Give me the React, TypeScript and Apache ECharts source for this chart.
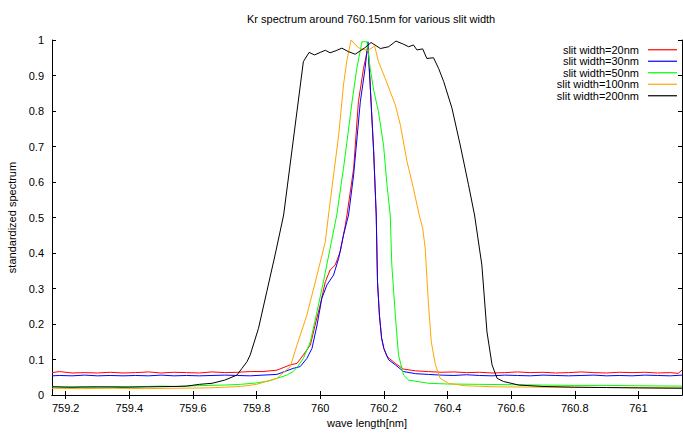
import React, { useEffect, useRef } from "react";
import * as echarts from "echarts";

const TITLE = "Kr spectrum around 760.15nm for various slit width";
const X_NAME = "wave length[nm]";
const Y_NAME = "standardized spectrum";
const X_TICKS = [759.2, 759.4, 759.6, 759.8, 760, 760.2, 760.4, 760.6, 760.8, 761];
const X_MIN = 759.157;
const X_MAX = 761.137;

const SERIES_NAMES = ["slit width=20nm", "slit width=30nm", "slit width=50nm", "slit width=100nm", "slit width=200nm"];
const COLORS = ["#ff0000", "#0000ff", "#00ff00", "#ffa500", "#000000"];

const wl20 = [759.157, 759.18, 759.22, 759.26, 759.3, 759.34, 759.38, 759.42, 759.46, 759.5, 759.54, 759.58, 759.62, 759.66, 759.7, 759.74, 759.78, 759.82, 759.864, 759.906, 759.927, 759.947, 759.969, 759.984, 760.0, 760.016, 760.031, 760.047, 760.063, 760.079, 760.084, 760.105, 760.12, 760.136, 760.15, 760.157, 760.168, 760.176, 760.18, 760.186, 760.193, 760.2, 760.21, 760.236, 760.262, 760.3, 760.34, 760.38, 760.42, 760.46, 760.5, 760.54, 760.58, 760.62, 760.66, 760.7, 760.74, 760.78, 760.82, 760.86, 760.9, 760.94, 760.98, 761.02, 761.06, 761.1, 761.125, 761.137];
const val20 = [0.063, 0.066, 0.062, 0.063, 0.062, 0.064, 0.062, 0.063, 0.065, 0.062, 0.064, 0.063, 0.062, 0.065, 0.063, 0.064, 0.066, 0.066, 0.07, 0.085, 0.089, 0.113, 0.141, 0.197, 0.254, 0.319, 0.352, 0.366, 0.404, 0.479, 0.507, 0.638, 0.826, 0.92, 0.978, 0.873, 0.685, 0.507, 0.319, 0.225, 0.16, 0.131, 0.108, 0.089, 0.073, 0.068, 0.066, 0.064, 0.065, 0.063, 0.064, 0.062, 0.063, 0.065, 0.063, 0.064, 0.062, 0.063, 0.065, 0.063, 0.062, 0.064, 0.063, 0.064, 0.062, 0.063, 0.061, 0.07];

const wl30 = [759.157, 759.18, 759.22, 759.26, 759.3, 759.34, 759.38, 759.42, 759.46, 759.5, 759.54, 759.58, 759.62, 759.66, 759.7, 759.74, 759.78, 759.82, 759.864, 759.915, 759.937, 759.958, 759.974, 759.99, 760.005, 760.021, 760.042, 760.058, 760.073, 760.089, 760.105, 760.126, 760.141, 760.15, 760.157, 760.168, 760.176, 760.18, 760.186, 760.193, 760.2, 760.215, 760.236, 760.262, 760.3, 760.34, 760.38, 760.42, 760.46, 760.5, 760.54, 760.58, 760.62, 760.66, 760.7, 760.74, 760.78, 760.82, 760.86, 760.9, 760.94, 760.98, 761.02, 761.06, 761.1, 761.137];
const val30 = [0.054, 0.055, 0.054, 0.056, 0.054, 0.055, 0.054, 0.055, 0.054, 0.056, 0.054, 0.055, 0.054, 0.055, 0.056, 0.055, 0.054, 0.056, 0.058, 0.075, 0.08, 0.103, 0.131, 0.197, 0.272, 0.31, 0.338, 0.385, 0.45, 0.507, 0.62, 0.826, 0.92, 0.995, 0.873, 0.685, 0.507, 0.319, 0.225, 0.16, 0.131, 0.099, 0.085, 0.066, 0.06, 0.058, 0.056, 0.055, 0.057, 0.055, 0.054, 0.056, 0.055, 0.054, 0.056, 0.055, 0.054, 0.055, 0.056, 0.054, 0.055, 0.054, 0.056, 0.055, 0.054, 0.056];

const wl50 = [759.157, 759.2, 759.25, 759.3, 759.35, 759.4, 759.45, 759.5, 759.55, 759.6, 759.65, 759.7, 759.75, 759.8, 759.84, 759.864, 759.895, 759.915, 759.927, 759.947, 759.969, 759.99, 760.01, 760.031, 760.052, 760.073, 760.085, 760.1, 760.115, 760.131, 760.147, 760.157, 760.168, 760.183, 760.199, 760.21, 760.22, 760.225, 760.236, 760.246, 760.262, 760.278, 760.34, 760.4, 760.5, 760.6, 760.7, 760.8, 760.9, 761.0, 761.137];
const val50 = [0.024, 0.022, 0.023, 0.022, 0.024, 0.023, 0.024, 0.025, 0.024, 0.026, 0.027, 0.028, 0.03, 0.034, 0.04, 0.047, 0.056, 0.066, 0.078, 0.103, 0.15, 0.235, 0.319, 0.413, 0.507, 0.638, 0.72, 0.826, 0.92, 0.995, 0.995, 0.92, 0.859, 0.798, 0.704, 0.59, 0.507, 0.366, 0.225, 0.113, 0.056, 0.042, 0.033, 0.031, 0.03, 0.029, 0.028, 0.027, 0.027, 0.026, 0.025];

const wl100 = [759.157, 759.25, 759.35, 759.45, 759.55, 759.65, 759.7, 759.75, 759.8, 759.864, 759.906, 759.927, 759.958, 759.99, 760.016, 760.026, 760.042, 760.058, 760.073, 760.084, 760.097, 760.12, 760.149, 760.171, 760.183, 760.204, 760.236, 760.252, 760.273, 760.293, 760.311, 760.322, 760.33, 760.339, 760.349, 760.362, 760.377, 760.403, 760.456, 760.55, 760.7, 760.9, 761.137];
const val100 = [0.019, 0.018, 0.019, 0.018, 0.019, 0.02, 0.022, 0.024, 0.03, 0.047, 0.08, 0.141, 0.225, 0.338, 0.432, 0.507, 0.62, 0.732, 0.873, 0.944, 1.0, 0.978, 0.97, 0.983, 0.939, 0.892, 0.817, 0.76, 0.657, 0.582, 0.507, 0.47, 0.413, 0.272, 0.15, 0.085, 0.047, 0.033, 0.026, 0.023, 0.022, 0.021, 0.02];

const wl200 = [759.157, 759.22, 759.3, 759.38, 759.46, 759.54, 759.58, 759.62, 759.66, 759.7, 759.738, 759.754, 759.77, 759.78, 759.806, 759.832, 759.858, 759.885, 759.947, 759.965, 759.982, 760.0, 760.016, 760.031, 760.05, 760.068, 760.089, 760.11, 760.14, 760.16, 760.189, 760.215, 760.238, 760.262, 760.278, 760.293, 760.304, 760.322, 760.335, 760.356, 760.372, 760.388, 760.414, 760.44, 760.466, 760.485, 760.508, 760.524, 760.54, 760.556, 760.576, 760.624, 760.7, 760.8, 760.9, 761.0, 761.137];
const val200 = [0.023, 0.022, 0.023, 0.022, 0.023, 0.024, 0.025, 0.03, 0.033, 0.042, 0.056, 0.075, 0.094, 0.113, 0.188, 0.291, 0.394, 0.507, 0.939, 0.965, 0.958, 0.965, 0.971, 0.964, 0.97, 0.977, 0.967, 0.96, 0.978, 0.993, 0.976, 0.981, 0.997, 0.988, 0.981, 0.986, 0.972, 0.975, 0.948, 0.95, 0.92, 0.883, 0.808, 0.704, 0.592, 0.507, 0.366, 0.178, 0.085, 0.047, 0.038, 0.028, 0.024, 0.022, 0.021, 0.02, 0.019];

const WLS = [wl20, wl30, wl50, wl100, wl200];
const VALS = [val20, val30, val50, val100, val200];

const FONT = "Liberation Sans, Arial, Helvetica, sans-serif";

export default function App() {
  const ref = useRef<HTMLDivElement>(null);
  useEffect(() => {
    if (!ref.current) return;
    const chart = echarts.init(ref.current, null, { renderer: "svg" });
    const axisCommon = {
      axisLine: { show: true, lineStyle: { color: "#000", width: 1 } },
      splitLine: { show: false },
    };
    chart.setOption({
      animation: false,
      backgroundColor: "#fff",
      title: {
        text: TITLE,
        left: 247,
        top: 13,
        padding: 0,
        textStyle: { fontSize: 11, fontWeight: "normal", color: "#000", fontFamily: FONT },
      },
      legend: {
        orient: "vertical",
        right: 6,
        top: 44,
        padding: 0,
        align: "right",
        icon: "rect",
        itemWidth: 29,
        itemHeight: 1.2,
        itemGap: 0,
        selectedMode: false,
        textStyle: { fontSize: 11, lineHeight: 11.5, color: "#000", fontFamily: FONT, padding: [0, 4, 0, 0] },
        data: SERIES_NAMES,
      },
      grid: { left: 52, right: 1, top: 40, bottom: 41, containLabel: false, outerBoundsMode: "none" },
      xAxis: [
        {
          ...axisCommon,
          type: "value",
          min: X_MIN,
          max: X_MAX,
          name: X_NAME,
          nameLocation: "middle",
          nameGap: 22,
          nameTextStyle: { fontSize: 11, color: "#000", fontFamily: FONT },
          axisTick: { show: true, inside: true, length: 4, customValues: X_TICKS, lineStyle: { color: "#000" } },
          axisLabel: { show: true, customValues: X_TICKS, margin: 7, fontSize: 11, color: "#000", fontFamily: FONT },
        },
        {
          ...axisCommon,
          type: "value",
          position: "top",
          min: X_MIN,
          max: X_MAX,
          axisTick: { show: true, inside: true, length: 4, customValues: X_TICKS, lineStyle: { color: "#000" } },
          axisLabel: { show: false },
        },
      ],
      yAxis: [
        {
          ...axisCommon,
          type: "value",
          min: 0,
          max: 1,
          interval: 0.1,
          name: Y_NAME,
          nameLocation: "middle",
          nameGap: 32,
          nameRotate: 90,
          nameTextStyle: { fontSize: 11, color: "#000", fontFamily: FONT },
          axisTick: { show: true, inside: true, length: 4, lineStyle: { color: "#000" } },
          axisLabel: { show: true, margin: 8, fontSize: 11, color: "#000", fontFamily: FONT },
        },
        {
          ...axisCommon,
          type: "value",
          position: "right",
          min: 0,
          max: 1,
          interval: 0.1,
          axisTick: { show: true, inside: true, length: 4, lineStyle: { color: "#000" } },
          axisLabel: { show: false },
        },
      ],
      series: SERIES_NAMES.map((name, i) => ({
        name,
        type: "line",
        xAxisIndex: 0,
        yAxisIndex: 0,
        showSymbol: false,
        symbol: "none",
        color: COLORS[i],
        lineStyle: { width: 1, color: COLORS[i] },
        data: WLS[i].map((w, j) => [w, VALS[i][j]]),
      })),
    });
    return () => chart.dispose();
  }, []);
  return <div ref={ref} style={{ width: 683, height: 436, position: "absolute", left: 0, top: 0 }} />;
}
